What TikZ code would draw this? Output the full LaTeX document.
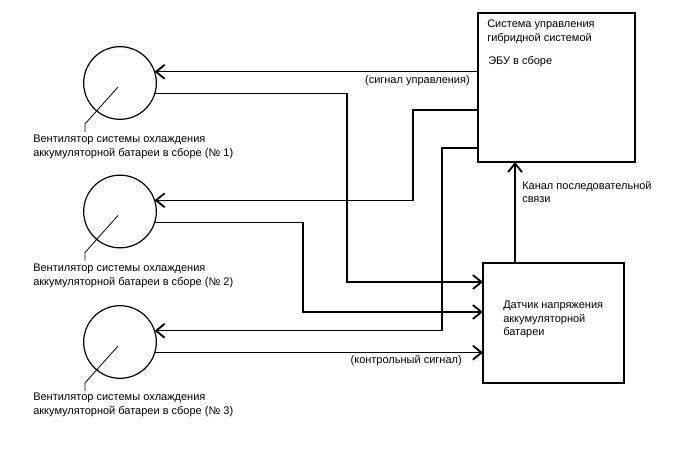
\documentclass[tikz,border=0pt]{standalone}
\usepackage{fontspec}
\setmainfont{Liberation Sans}
\usetikzlibrary{arrows.meta,positioning}

\begin{document}
\begin{tikzpicture}[
  x=0.75pt, y=-0.75pt,
  fan/.style={draw, circle, line width=0.9pt, minimum size=54.5pt,
              inner sep=0pt, outer sep=0pt},
  unit/.style={draw, line width=0.9pt, inner sep=0pt, outer sep=0pt},
  txt/.style={anchor=north west, inner sep=0pt, align=left,
              font=\fontsize{8.25}{10}\selectfont},
  arr/.style={-{Straight Barb[length=6.5pt,width=10.5pt,line width=1.4pt]},
              line width=0.9pt},
  lead/.style={line width=0.6pt}
]
\useasboundingbox (0,0) rectangle (688,463);

%% Control units
\node[unit, minimum width=117.75pt, minimum height=111.75pt] (ecu) at (556.5,87.5) {};
\node[unit, minimum width=105.75pt, minimum height=90pt] (sensor) at (553.5,323) {};
\node[txt] (ecutxt) at (487,20) {Система управления\\гибридной системой};
\node[txt] (ecusub) at (488,56) {ЭБУ в сборе};
\node[txt] (senstxt) at (503,301) {Датчик напряжения\\аккумуляторной\\батареи};

%% Fans
\foreach \i/\y in {1/83, 2/211.5, 3/342}{
  \node[fan] (fan\i) at (120,\y) {};
  \draw[lead] ([shift={(-2,4)}]fan\i.center) -- ++(-33,37) -- ++(0,8);
}
\node[txt] (lab1) at (33,135) {Вентилятор системы охлаждения\\аккумуляторной батареи в сборе (№ 1)};
\node[txt] (lab2) at (33,264) {Вентилятор системы охлаждения\\аккумуляторной батареи в сборе (№ 2)};
\node[txt] (lab3) at (33,393) {Вентилятор системы охлаждения\\аккумуляторной батареи в сборе (№ 3)};

%% Control signals from ECU
\draw[arr] (fan1.18 -| ecu.west) -- (fan1.18);
\draw[arr] (ecu.west |- 0,110) -- (413,110) |- (fan2.18);
\draw[arr] (ecu.west |- 0,148) -- (442,148) |- (fan3.18);
\node[txt, anchor=north east] (ctrl) at (470,75) {(сигнал управления)};

%% Monitor signals to sensor
\draw[arr] (fan1.-17) -| (347,282) -- (sensor.west |- 0,282);
\draw[arr] (fan2.-17) -| (303,312) -- (sensor.west |- 0,312);
\draw[arr] (fan3.-17) -- (sensor.west |- fan3.-17);
\node[txt, anchor=north east] (mon) at (462,355) {(контрольный сигнал)};

%% Serial link
\draw[arr] (sensor.north -| 515,0) -- (ecu.south -| 515,0);
\node[txt] (serial) at (522,181) {Канал последовательной\\связи};

\end{tikzpicture}
\end{document}
